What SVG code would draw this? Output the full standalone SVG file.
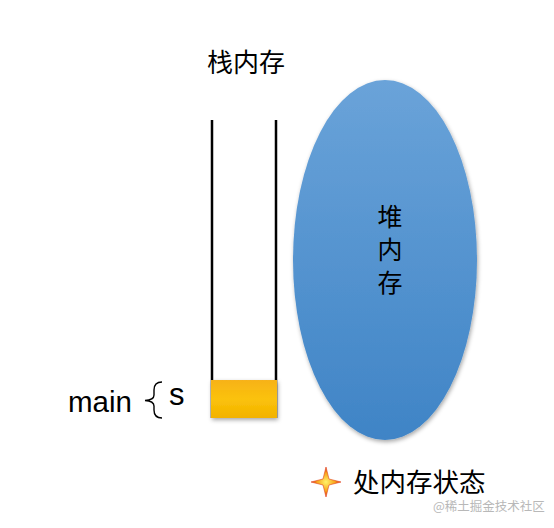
<svg xmlns="http://www.w3.org/2000/svg" width="554" height="528" viewBox="0 0 554 528">
<defs>
<style>
.t{font-family:"Liberation Sans","Noto Sans CJK SC",sans-serif;fill:#000}
.wall{stroke:#000;stroke-width:2.5;fill:none}
</style>
<linearGradient id="heapG" x1="0" y1="0" x2="0" y2="1">
<stop offset="0" stop-color="#6aa3d9"/>
<stop offset="1" stop-color="#3f84c6"/>
</linearGradient>
<linearGradient id="yG" x1="0" y1="0" x2="0" y2="1">
<stop offset="0" stop-color="#f7b21a"/>
<stop offset="0.5" stop-color="#fbc20a"/>
<stop offset="1" stop-color="#f2b200"/>
</linearGradient>
<radialGradient id="starG" cx="0.5" cy="0.5" r="0.5">
<stop offset="0" stop-color="#fff36a"/>
<stop offset="0.6" stop-color="#f7a21a"/>
<stop offset="1" stop-color="#e0301a"/>
</radialGradient>
<filter id="sh" x="-20%" y="-20%" width="140%" height="140%">
<feDropShadow dx="1" dy="2" stdDeviation="2" flood-opacity="0.35"/>
</filter>
</defs>
<rect width="554" height="528" fill="#fff"/>
<g id="stack">
<text class="t" x="246" y="72" font-size="26" text-anchor="middle">栈内存</text>
<line class="wall" x1="212" y1="120" x2="212" y2="418"/>
<line class="wall" x1="276" y1="120" x2="276" y2="418"/>
</g>
<g id="main-frame">
<rect x="211" y="380" width="66" height="38" fill="url(#yG)" filter="url(#sh)"/>
<text class="t" x="68" y="412" font-size="29.5">main</text>
<path d="M162,382 Q154,382 154,390 L154,395 Q154,400 145,400.5 Q154,401 154,406 L154,410 Q154,418 162,418" fill="none" stroke="#000" stroke-width="1.4"/>
<text class="t" x="169" y="405" font-size="31">s</text>
</g>
<g id="heap">
<ellipse cx="385" cy="260" rx="92" ry="180" fill="url(#heapG)" filter="url(#sh)"/>
<text class="t" x="390" y="226" font-size="25" text-anchor="middle">堆</text>
<text class="t" x="390" y="259" font-size="25" text-anchor="middle">内</text>
<text class="t" x="390" y="292" font-size="25" text-anchor="middle">存</text>
</g>
<g id="legend">
<path d="M326,467 L329,479 L341,482 L329,485 L326,497 L323,485 L311,482 L323,479 Z" fill="url(#starG)" stroke="#e0401a" stroke-width="0.6"/>
<text class="t" x="353" y="492" font-size="26.5">处内存状态</text>
</g>
<text x="433" y="511" font-size="12.5" fill="#b8b8b8" font-family="'Noto Sans CJK SC',sans-serif">@稀土掘金技术社区</text>
</svg>
